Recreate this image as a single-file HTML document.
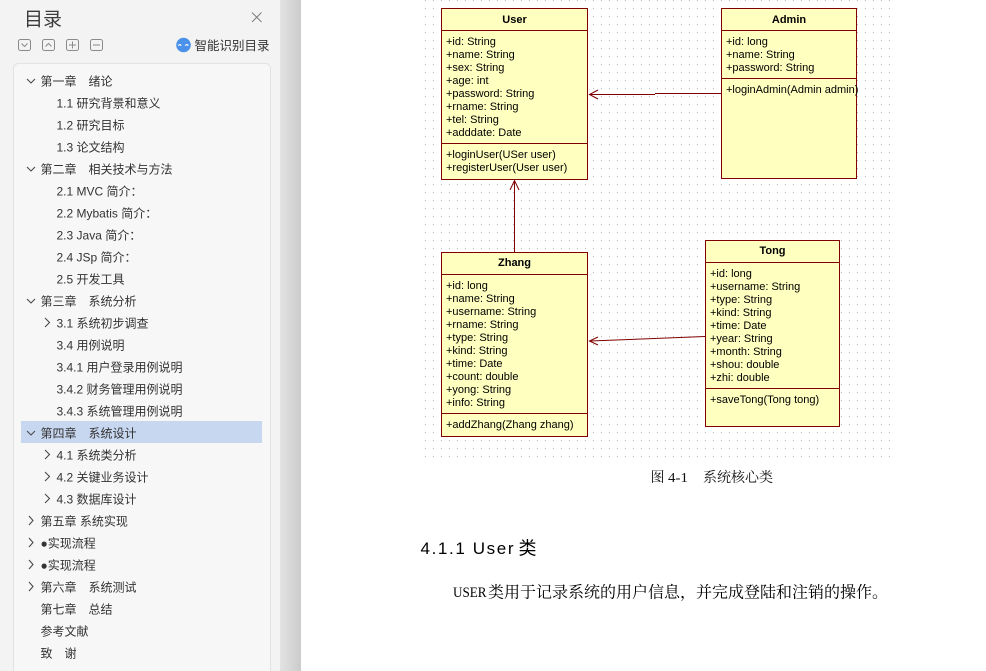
<!DOCTYPE html>
<html><head><meta charset="utf-8">
<style>
*{margin:0;padding:0;box-sizing:border-box}
html,body{width:986px;height:671px;overflow:hidden;background:#fff}
svg{position:absolute;left:0;top:0;display:block}
.s{font-family:"Liberation Sans","Noto Sans CJK SC",sans-serif;white-space:pre}
.u{font-family:"Liberation Sans","DejaVu Sans",sans-serif;font-size:11px;fill:#000}
.ub{font-family:"Liberation Sans","DejaVu Sans",sans-serif;font-size:11px;font-weight:bold;fill:#000}
.sr{font-family:"Liberation Serif","Noto Serif CJK SC",serif;white-space:pre}
</style></head>
<body>
<svg width="986" height="671" viewBox="0 0 986 671" xmlns="http://www.w3.org/2000/svg">
<defs>
<linearGradient id="sh" x1="0" y1="0" x2="1" y2="0">
<stop offset="0" stop-color="#e3e3e3"/><stop offset="1" stop-color="#cbcbcb"/>
</linearGradient>
<pattern id="dots" x="425" y="0" width="8" height="8" patternUnits="userSpaceOnUse">
<rect x="0" y="0" width="1" height="1" fill="#bdbdbd"/>
</pattern>
</defs>

<!-- sidebar -->
<rect x="0" y="0" width="280" height="671" fill="#f3f3f3"/>
<rect x="280" y="0" width="21" height="671" fill="url(#sh)"/>
<rect x="13.5" y="63.5" width="257" height="625" rx="5" fill="#f7f7f7" stroke="#e2e2e2"/>
<rect x="21" y="421" width="241" height="22" fill="#c8d7f0"/>

<text class="s" x="24" y="25.5" font-size="19" fill="#3c3c3c">目录</text>
<g stroke="#808080" stroke-width="1" fill="none">
<line x1="252" y1="12.5" x2="261.5" y2="22"/><line x1="261.5" y1="12.5" x2="252" y2="22"/>
</g>
<g stroke="#8a8a8a" stroke-width="1" fill="none">
<rect x="18.5" y="39.5" width="12" height="11" rx="2"/>
<rect x="42.5" y="39.5" width="12" height="11" rx="2"/>
<rect x="66.5" y="39.5" width="12" height="11" rx="2"/>
<rect x="90.5" y="39.5" width="12" height="11" rx="2"/>
<polyline points="21.5,43.5 24.5,46.5 27.5,43.5"/>
<polyline points="45.5,46.5 48.5,43.5 51.5,46.5"/>
<line x1="69" y1="45" x2="76" y2="45"/><line x1="72.5" y1="41.5" x2="72.5" y2="48.5"/>
<line x1="93" y1="45" x2="100" y2="45"/>
</g>
<circle cx="183.5" cy="45" r="7.3" fill="#4b91ea"/>
<path d="M178.3 45.6 q1.5 -2 3 0 M185.3 45.6 q1.5 -2 3 0" stroke="#fff" stroke-width="1.3" fill="none"/>
<text class="s" x="194.5" y="50" font-size="12.5" fill="#333">智能识别目录</text>

<!-- chevrons -->
<g stroke="#4a4a4a" stroke-width="1.1" fill="none">
<polyline points="27,79 31,83 35,79"/>
<polyline points="27,167 31,171 35,167"/>
<polyline points="27,299 31,303 35,299"/>
<polyline points="27,431 31,435 35,431"/>
<polyline points="45,318 49.5,322.5 45,327"/>
<polyline points="45,450 49.5,454.5 45,459"/>
<polyline points="45,472 49.5,476.5 45,481"/>
<polyline points="45,494 49.5,498.5 45,503"/>
<polyline points="29,516 33,520.5 29,525"/>
<polyline points="29,538 33,542.5 29,547"/>
<polyline points="29,560 33,564.5 29,569"/>
<polyline points="29,582 33,586.5 29,591"/>
</g>

<g class="s" font-size="12" fill="#333">
<text x="40.5" y="85.5">第一章　绪论</text>
<text x="56.5" y="107.5">1.1 研究背景和意义</text>
<text x="56.5" y="129.5">1.2 研究目标</text>
<text x="56.5" y="151.5">1.3 论文结构</text>
<text x="40.5" y="173.5">第二章　相关技术与方法</text>
<text x="56.5" y="195.5">2.1 MVC 简介：</text>
<text x="56.5" y="217.5">2.2 Mybatis 简介：</text>
<text x="56.5" y="239.5">2.3 Java 简介：</text>
<text x="56.5" y="261.5">2.4 JSp 简介：</text>
<text x="56.5" y="283.5">2.5 开发工具</text>
<text x="40.5" y="305.5">第三章　系统分析</text>
<text x="56.5" y="327.5">3.1 系统初步调查</text>
<text x="56.5" y="349.5">3.4 用例说明</text>
<text x="56.5" y="371.5">3.4.1 用户登录用例说明</text>
<text x="56.5" y="393.5">3.4.2 财务管理用例说明</text>
<text x="56.5" y="415.5">3.4.3 系统管理用例说明</text>
<text x="40.5" y="437.5">第四章　系统设计</text>
<text x="56.5" y="459.5">4.1 系统类分析</text>
<text x="56.5" y="481.5">4.2 关键业务设计</text>
<text x="56.5" y="503.5">4.3 数据库设计</text>
<text x="40.5" y="525.5">第五章  系统实现</text>
<text x="40.5" y="547.5">●实现流程</text>
<text x="40.5" y="569.5">●实现流程</text>
<text x="40.5" y="591.5">第六章　系统测试</text>
<text x="40.5" y="613.5">第七章　总结</text>
<text x="40.5" y="635.5">参考文献</text>
<text x="40.5" y="657.5">致　谢</text>
</g>

<!-- diagram grid -->
<rect x="425" y="0" width="465" height="457" fill="url(#dots)"/>

<!-- connectors -->
<g stroke="#800000" stroke-width="1" fill="none">
<line x1="655" y1="93.5" x2="721" y2="93.5"/>
<line x1="589" y1="94.5" x2="655" y2="94.5"/>
<polyline points="598,90 589.5,94.5 598,99"/>
<line x1="514.5" y1="181" x2="514.5" y2="252"/>
<polyline points="510,190 514.5,180.5 519,190"/>
<line x1="705" y1="336.5" x2="590" y2="341"/>
<polyline points="598,337 589.5,341 598,345"/>
</g>

<!-- User -->
<g stroke="#800000" stroke-width="1">
<rect x="441.5" y="8.5" width="146" height="171" fill="#ffffc0"/>
<line x1="441.5" y1="30.5" x2="587.5" y2="30.5"/>
<line x1="441.5" y1="143.5" x2="587.5" y2="143.5"/>
<rect x="721.5" y="8.5" width="135" height="170" fill="#ffffc0"/>
<line x1="721.5" y1="30.5" x2="856.5" y2="30.5"/>
<line x1="721.5" y1="78.5" x2="856.5" y2="78.5"/>
<rect x="441.5" y="252.5" width="146" height="184" fill="#ffffc0"/>
<line x1="441.5" y1="274.5" x2="587.5" y2="274.5"/>
<line x1="441.5" y1="413.5" x2="587.5" y2="413.5"/>
<rect x="705.5" y="240.5" width="134" height="186" fill="#ffffc0"/>
<line x1="705.5" y1="262.5" x2="839.5" y2="262.5"/>
<line x1="705.5" y1="388.5" x2="839.5" y2="388.5"/>
</g>

<text class="ub" x="514.5" y="23" text-anchor="middle">User</text>
<g class="u">
<text x="446" y="45">+id: String</text>
<text x="446" y="58">+name: String</text>
<text x="446" y="71">+sex: String</text>
<text x="446" y="84">+age: int</text>
<text x="446" y="97">+password: String</text>
<text x="446" y="110">+rname: String</text>
<text x="446" y="123">+tel: String</text>
<text x="446" y="136">+adddate: Date</text>
<text x="446" y="158">+loginUser(USer user)</text>
<text x="446" y="171">+registerUser(User user)</text>
</g>

<text class="ub" x="789" y="23" text-anchor="middle">Admin</text>
<g class="u">
<text x="726" y="45">+id: long</text>
<text x="726" y="58">+name: String</text>
<text x="726" y="71">+password: String</text>
<text x="726" y="93">+loginAdmin(Admin admin)</text>
</g>

<text class="ub" x="514.5" y="266" text-anchor="middle">Zhang</text>
<g class="u">
<text x="446" y="289">+id: long</text>
<text x="446" y="302">+name: String</text>
<text x="446" y="315">+username: String</text>
<text x="446" y="328">+rname: String</text>
<text x="446" y="341">+type: String</text>
<text x="446" y="354">+kind: String</text>
<text x="446" y="367">+time: Date</text>
<text x="446" y="380">+count: double</text>
<text x="446" y="393">+yong: String</text>
<text x="446" y="406">+info: String</text>
<text x="446" y="428">+addZhang(Zhang zhang)</text>
</g>

<text class="ub" x="772.5" y="254" text-anchor="middle">Tong</text>
<g class="u">
<text x="710" y="277">+id: long</text>
<text x="710" y="290">+username: String</text>
<text x="710" y="303">+type: String</text>
<text x="710" y="316">+kind: String</text>
<text x="710" y="329">+time: Date</text>
<text x="710" y="342">+year: String</text>
<text x="710" y="355">+month: String</text>
<text x="710" y="368">+shou: double</text>
<text x="710" y="381">+zhi: double</text>
<text x="710" y="403">+saveTong(Tong tong)</text>
</g>

<!-- caption & text -->
<text class="sr" x="650.5" y="482" font-size="14" fill="#111">图</text>
<text class="sr" x="668" y="482" font-size="14" fill="#111" textLength="20" lengthAdjust="spacingAndGlyphs">4-1</text>
<text class="sr" x="703" y="482" font-size="14" fill="#111" textLength="70" lengthAdjust="spacing">系统核心类</text>

<text class="s" x="420.5" y="554" font-size="17" fill="#000" textLength="93" lengthAdjust="spacing">4.1.1 User</text>
<text class="s" x="518.5" y="554.5" font-size="18" fill="#000">类</text>

<text class="sr" x="453" y="597" font-size="14.5" fill="#000" textLength="33.5" lengthAdjust="spacingAndGlyphs">USER</text>
<text class="sr" x="488" y="597.5" font-size="16" fill="#000">类用于记录系统的用户信息，并完成登陆和注销的操作。</text>
</svg>
</body></html>
